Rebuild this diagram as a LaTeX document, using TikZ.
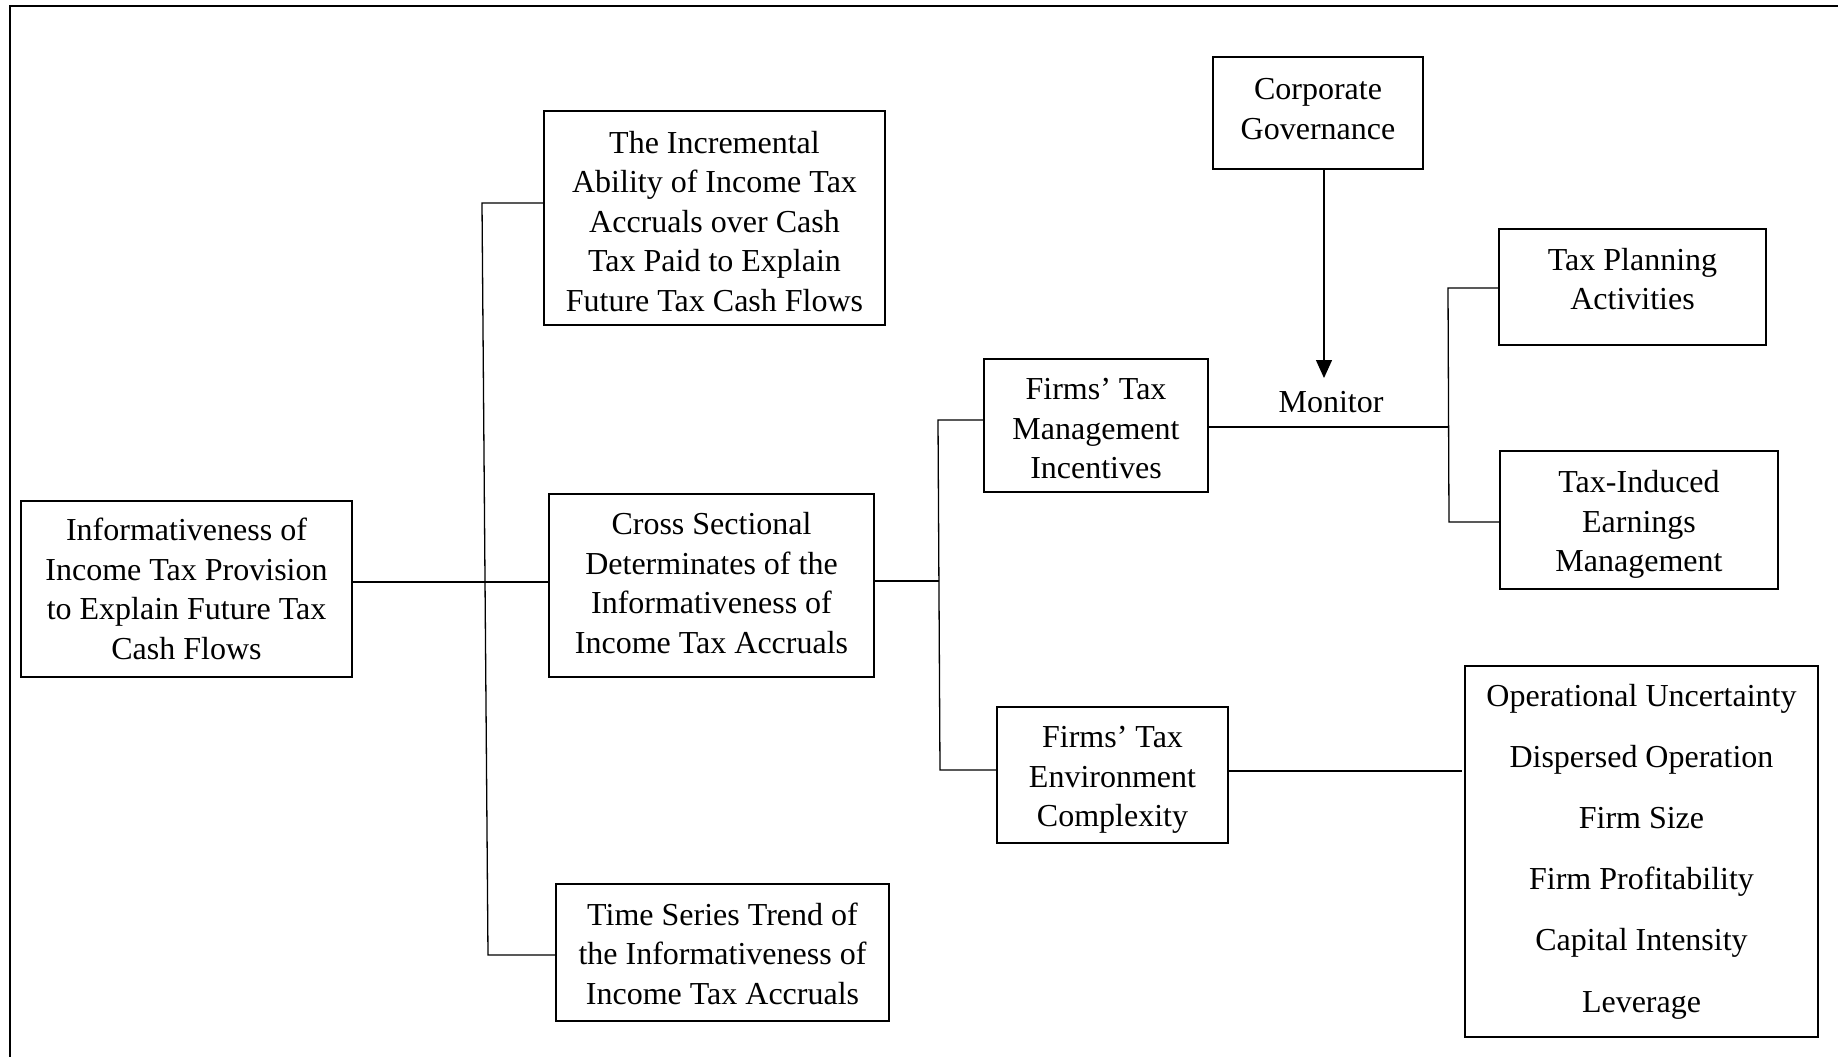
\documentclass[tikz,border=0pt]{standalone}
\usepackage{fontspec}
\setmainfont{Liberation Serif}
\usetikzlibrary{arrows.meta}
\begin{document}
\begin{tikzpicture}[x=0.5pt,y=-0.5pt,
  box/.style={draw,line width=0.8pt,rectangle,inner sep=0pt},
  txt/.style={inner sep=0pt,align=center,font=\fontsize{16}{19.8}\selectfont},
  conn/.style={draw,line width=0.65pt},
  frameline/.style={draw,line width=1pt}]
\useasboundingbox (0,0) rectangle (1838,1056);
\draw[frameline] (10,1060) -- (10,6) -- (1842,6);

\node[box,minimum width=165.5pt,minimum height=88pt] (root) at (186.5,589) {};
\node[txt] (roott) at (root) {Informativeness of\\Income Tax Provision\\to Explain Future Tax\\Cash Flows};
\node[box,minimum width=170.5pt,minimum height=107pt] (incr) at (714.5,218) {};
\node[txt,yshift=-1.7pt] (incrt) at (incr) {The Incremental\\Ability of Income Tax\\Accruals over Cash\\Tax Paid to Explain\\Future Tax Cash Flows};
\node[box,minimum width=162.5pt,minimum height=91.5pt] (cross) at (711.5,585.5) {};
\node[txt,yshift=1.2pt] (crosst) at (cross) {Cross Sectional\\Determinates of the\\Informativeness of\\Income Tax Accruals};
\node[box,minimum width=166.5pt,minimum height=68.5pt] (time) at (722.5,952.5) {};
\node[txt,yshift=-0.5pt] (timet) at (time) {Time Series Trend of\\the Informativeness of\\Income Tax Accruals};
\node[box,minimum width=112pt,minimum height=66.5pt] (mgmt) at (1096,425.5) {};
\node[txt,yshift=-1.7pt] (mgmtt) at (mgmt) {Firms’ Tax\\Management\\Incentives};
\node[box,minimum width=115.5pt,minimum height=68pt] (env) at (1112.5,775) {};
\node[txt,yshift=-2.5pt] (envt) at (env) {Firms’ Tax\\Environment\\Complexity};
\node[box,minimum width=105pt,minimum height=56pt] (corp) at (1318,113) {};
\node[txt,yshift=2pt] (corpt) at (corp) {Corporate\\Governance};
\node[box,minimum width=133.5pt,minimum height=58pt] (plan) at (1632.5,287) {};
\node[txt,yshift=4pt] (plant) at (plan) {Tax Planning\\Activities};
\node[box,minimum width=139pt,minimum height=69pt] (induced) at (1639,520) {};
\node[txt,yshift=-2.3pt] (inducedt) at (induced) {Tax-Induced\\Earnings\\Management};
\node[box,minimum width=176.5pt,minimum height=185.5pt] (list) at (1641.5,851.5) {};
\node[txt,font=\fontsize{16}{30.6}\selectfont] (listt) at (list)
  {Operational Uncertainty\\Dispersed Operation\\Firm Size\\Firm Profitability\\Capital Intensity\\Leverage};

\node[txt] (monlbl) at (1331,402) {Monitor};

% left bracket
\coordinate (b1t) at (482,203);
\coordinate (b1m) at (485,582);
\coordinate (b1b) at (488,955);
\draw[conn] (incr.west |- b1t) -- (b1t) -- (b1b) -- (time.west |- b1b);
\draw[conn] (root.east |- b1m) -- (cross.west |- b1m);

% middle bracket
\coordinate (b2t) at (938,420);
\coordinate (b2m) at (939,581);
\coordinate (b2b) at (940,770);
\draw[conn] (mgmt.west |- b2t) -- (b2t) -- (b2b) -- (env.west |- b2b);
\draw[conn] (cross.east |- b2m) -- (b2m);

% right bracket
\coordinate (b3t) at (1448,288);
\coordinate (b3m) at (1448,427);
\coordinate (b3b) at (1449,522);
\draw[conn] (plan.west |- b3t) -- (b3t) -- (b3b) -- (induced.west |- b3b);
\draw[conn] (mgmt.east |- b3m) -- (b3m);

% environment to list
\coordinate (envr) at (1462,771);
\draw[conn] (env.east |- envr) -- (envr);

% governance arrow
\coordinate (mon) at (1324,378);
\draw[conn,-{Triangle[length=9pt,width=8pt]}] (corp.south -| mon) -- (mon);
\end{tikzpicture}
\end{document}
